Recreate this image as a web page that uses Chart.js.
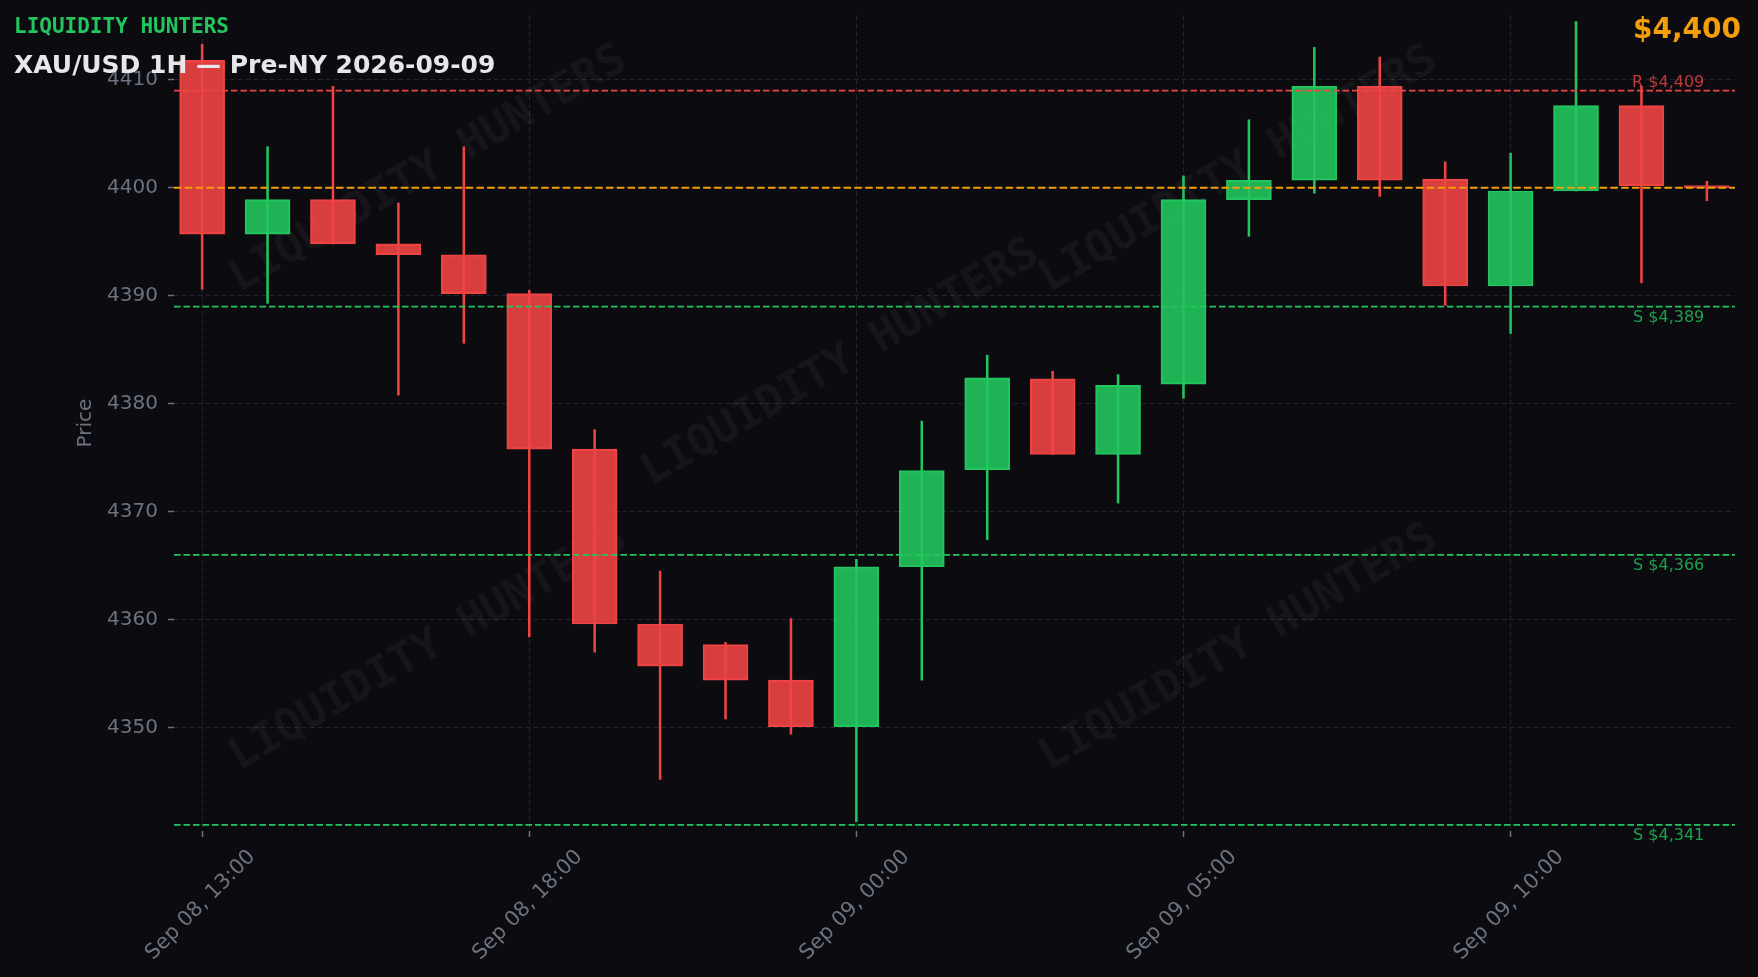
<!DOCTYPE html>
<html>
<head>
<meta charset="utf-8">
<script src="https://cdn.jsdelivr.net/npm/chart.js@4.4.1/dist/chart.umd.min.js"></script>
<style>
html,body{margin:0;padding:0;background:#0b0b10;overflow:hidden}
canvas{display:block}
</style>
</head>
<body>
<canvas id="c" width="1758" height="977"></canvas>
<script>
// ---- data ----
const timeLabels = [
  "Sep 08, 13:00","Sep 08, 14:00","Sep 08, 15:00","Sep 08, 16:00","Sep 08, 17:00",
  "Sep 08, 18:00","Sep 08, 19:00","Sep 08, 20:00","Sep 08, 21:00","Sep 08, 22:00",
  "Sep 09, 00:00","Sep 09, 01:00","Sep 09, 02:00","Sep 09, 03:00","Sep 09, 04:00",
  "Sep 09, 05:00","Sep 09, 06:00","Sep 09, 07:00","Sep 09, 08:00","Sep 09, 09:00",
  "Sep 09, 10:00","Sep 09, 11:00","Sep 09, 12:00","Sep 09, 13:00"
];
const opens  = [4411.8,4395.7,4398.9,4394.8,4393.8,4390.2,4375.8,4359.6,4357.7,4354.4,4350.1,4364.9,4373.9,4382.3,4375.3,4381.8,4398.9,4400.7,4409.4,4400.8,4390.9,4399.7,4407.6,4400.2];
const highs  = [4413.3,4403.8,4409.4,4398.6,4403.8,4390.5,4377.6,4364.5,4357.9,4360.1,4365.6,4378.4,4384.5,4383.0,4382.7,4401.1,4406.3,4413.0,4412.1,4402.4,4403.2,4415.4,4409.4,4400.6];
const lows   = [4390.6,4389.3,4394.8,4380.8,4385.6,4358.4,4357.0,4345.2,4350.8,4349.4,4341.3,4354.4,4367.4,4375.3,4370.8,4380.5,4395.5,4399.5,4399.2,4389.1,4386.5,4399.7,4391.2,4398.8];
const closes = [4395.7,4398.9,4394.8,4393.8,4390.2,4375.8,4359.6,4355.7,4354.4,4350.1,4364.9,4373.8,4382.4,4375.3,4381.7,4398.9,4400.7,4409.4,4400.7,4390.9,4399.7,4407.6,4400.2,4400.0];
const xTickIndex = [0,5,10,15,20];
const yTickValues = [4350,4360,4370,4380,4390,4400,4410];
const resistanceLevels = [4409];
const supportLevels = [4389,4366,4341];
const currentPrice = 4400;
const brandText = "LIQUIDITY HUNTERS";
const titleText = "XAU/USD 1H \u2014 Pre-NY 2026-09-09";
const priceText = "$4,400";

// ---- styles ----
const BG = '#0b0b10';
const GREEN = '#22c55e', RED = '#ef4444', ORANGE = '#f59e0b';
const GREEN_FILL = 'rgba(34,197,94,0.9)', RED_FILL = 'rgba(239,68,68,0.9)';
const MUTED = '#6b7280', GRID = '#23242d';
const X_MIN = -0.43, X_MAX = 23.43;

const isUp = opens.map((o,i)=>closes[i] >= o);

function levelDataset(v, color, dash, width){
  return {
    type:'line', data:[{x:X_MIN,y:v},{x:X_MAX,y:v}],
    borderColor:color, borderWidth:width, borderDash:dash,
    pointRadius:0, fill:false, order:0, clip:false
  };
}

const datasets = [
  ...resistanceLevels.map(v=>levelDataset(v, RED, [6.5,3], 1.7)),
  levelDataset(currentPrice, ORANGE, [7.5,3.3], 1.8),
  ...supportLevels.map(v=>levelDataset(v, GREEN, [6.5,3], 1.7)),
  {
    type:'bar', label:'body',
    data: opens.map((o,i)=>({x:i, y:[o, closes[i]]})),
    backgroundColor: isUp.map(u=>u?GREEN_FILL:RED_FILL),
    borderColor: isUp.map(u=>u?GREEN:RED),
    borderWidth:1.5, borderSkipped:false,
    barThickness:45, grouped:false, order:1
  },
  {
    type:'bar', label:'wick',
    data: lows.map((l,i)=>({x:i, y:[l, highs[i]]})),
    backgroundColor: isUp.map(u=>u?GREEN:RED),
    borderWidth:0, barThickness:1.9, grouped:false, order:2
  }
];

const watermarkPlugin = {
  id:'watermark',
  beforeDatasetsDraw(chart){
    const {ctx, chartArea:a} = chart;
    const spots = [[0.163,0.19],[0.427,0.427],[0.682,0.19],[0.163,0.776],[0.682,0.776]];
    ctx.save();
    ctx.beginPath(); ctx.rect(a.left,a.top,a.right-a.left,a.bottom-a.top); ctx.clip();
    ctx.font = 'bold 44px "DejaVu Sans Mono"';
    ctx.fillStyle = 'rgba(255,255,255,0.045)';
    ctx.textAlign='center'; ctx.textBaseline='middle';
    spots.forEach(([fx,fy])=>{
      ctx.save();
      ctx.translate(a.left + fx*(a.right-a.left), a.top + fy*(a.bottom-a.top));
      ctx.rotate(-Math.PI/6);
      ctx.fillText(brandText,0,0);
      ctx.restore();
    });
    ctx.restore();
  }
};

const levelLabelPlugin = {
  id:'levelLabels',
  afterDatasetsDraw(chart){
    const {ctx, scales:{x,y}} = chart;
    const px = x.getPixelForValue(22.96);
    ctx.save();
    ctx.font = '16px "DejaVu Sans"';
    ctx.textAlign = 'right'; ctx.textBaseline = 'alphabetic';
    resistanceLevels.forEach(v=>{
      ctx.fillStyle = 'rgba(239,68,68,0.8)';
      ctx.fillText('R $' + v.toLocaleString('en-US'), px, y.getPixelForValue(v) - 3.5);
    });
    supportLevels.forEach(v=>{
      ctx.fillStyle = 'rgba(34,197,94,0.8)';
      ctx.fillText('S $' + v.toLocaleString('en-US'), px, y.getPixelForValue(v) + 15.5);
    });
    ctx.restore();
  },
  afterDraw(chart){
    const {ctx} = chart;
    ctx.save();
    ctx.textBaseline = 'alphabetic';
    ctx.textAlign = 'left';
    ctx.font = 'bold 21px "DejaVu Sans Mono"';
    ctx.fillStyle = GREEN;
    ctx.fillText(brandText, 14, 33);
    ctx.font = 'bold 25px "DejaVu Sans"';
    ctx.fillStyle = '#e5e7eb';
    ctx.fillText(titleText, 14, 73);
    ctx.textAlign = 'right';
    ctx.font = 'bold 28px "DejaVu Sans"';
    ctx.fillStyle = ORANGE;
    ctx.fillText(priceText, 1741, 38);
    ctx.restore();
  }
};

const bgPlugin = {
  id:'bg',
  beforeDraw(chart){
    const {ctx,width,height} = chart;
    ctx.save(); ctx.fillStyle = BG; ctx.fillRect(0,0,width,height); ctx.restore();
  }
};

function zeroPad(s){ s.paddingTop = 0; s.paddingBottom = 0; s.paddingLeft = 0; s.paddingRight = 0; }

new Chart(document.getElementById('c'), {
  type:'bar',
  data:{ datasets },
  plugins:[bgPlugin, watermarkPlugin, levelLabelPlugin],
  options:{
    responsive:false, animation:false,
    layout:{ padding:{ top:15, right:23, left:0, bottom:0 } },
    plugins:{ legend:{display:false}, tooltip:{enabled:false}, title:{display:false} },
    scales:{
      x:{
        type:'linear', min:X_MIN, max:X_MAX, offset:false,
        afterBuildTicks: s => { s.ticks = xTickIndex.map(v=>({value:v})); },
        afterFit: s => { s.height = 146; zeroPad(s); },
        ticks:{
          autoSkip:false, minRotation:45, maxRotation:45,
          color:MUTED, font:{family:'DejaVu Sans', size:20.8},
          padding:8, labelOffset:50,
          callback: v => timeLabels[v]
        },
        grid:{ color:GRID, lineWidth:1, offset:false, tickColor:MUTED, tickLength:6, tickWidth:1.5, tickBorderDash:[] },
        border:{ display:false, dash:[5,3] }
      },
      y:{
        type:'linear', min:4340.43, max:4416.0, beginAtZero:false,
        afterBuildTicks: s => { s.ticks = yTickValues.map(v=>({value:v})); },
        afterFit: s => { s.width = 174; zeroPad(s); },
        ticks:{ color:MUTED, font:{family:'DejaVu Sans', size:20}, padding:10, callback: v => String(v) },
        grid:{ color:GRID, lineWidth:1, tickColor:MUTED, tickLength:6, tickWidth:1.5, tickBorderDash:[] },
        border:{ display:false, dash:[5,3] },
        title:{ display:true, text:'Price', color:MUTED, font:{family:'DejaVu Sans', size:20}, padding:{top:74, bottom:0} }
      }
    }
  }
});
</script>
</body>
</html>
